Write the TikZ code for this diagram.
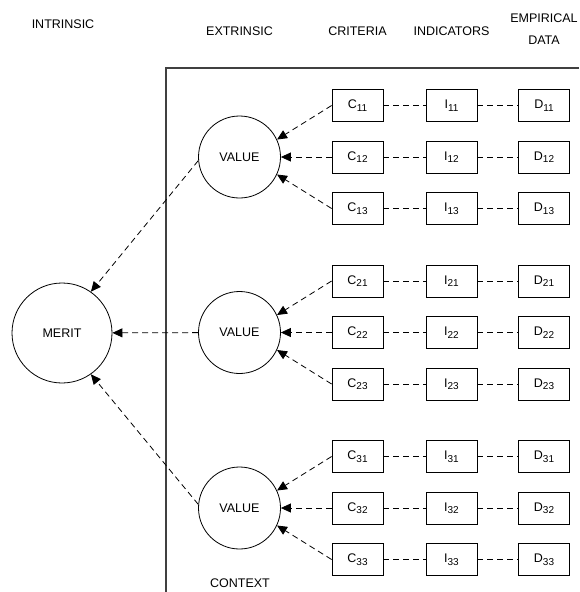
\documentclass[tikz,border=0pt]{standalone}
\usepackage{fontspec}
\setmainfont{Liberation Sans}
\usetikzlibrary{arrows.meta}

\newcommand{\idx}[1]{\raisebox{-2.5pt}{\fontsize{10}{10}\selectfont #1}}

\begin{document}
\begin{tikzpicture}[x=1pt,y=-1pt,line width=0.8pt,
    txt/.style={font=\fontsize{12.5}{22}\selectfont},
    bubble/.style={draw,circle,inner sep=0pt,txt},
    cell/.style={draw,rectangle,minimum width=51pt,minimum height=32pt,inner sep=0pt,font=\fontsize{12.5}{15}\selectfont},
    link/.style={dash pattern=on 6pt off 4pt},
    arr/.style={link,-{Triangle[length=10pt,width=9pt]}}]
    \useasboundingbox (0,0) rectangle (579,592);

    % nadpisy
    \node[txt] (intr) at (63,24) {INTRINSIC};
    \node[txt] (extr) at (239.5,31) {EXTRINSIC};
    \node[txt] (crit) at (357.5,31) {CRITERIA};
    \node[txt] (indic) at (451.5,31) {INDICATORS};
    \node[txt,align=center] (emp) at (544,29) {EMPIRICAL\\DATA};

    % kontext
    \draw[line width=1.3pt,black!75] (579,68) -- (166,68) -- (166,592);
    \node[txt] (context) at (240,583) {CONTEXT};

    \node[bubble,minimum size=100pt] (merit) at (62,333) {MERIT};

    % skupiny
    \foreach \g/\y in {1/157,2/332.5,3/508} {
        \node[bubble,minimum size=82pt] (v\g) at (239.5,\y) {VALUE};
        \foreach \r/\dy/\a in {1/-51.5/25,2/0/0,3/51.5/-25} {
            \node[cell] (c\g\r) at (357.5,\y+\dy) {C\idx{\g\r}};
            \node[cell] (i\g\r) at (451.5,\y+\dy) {I\idx{\g\r}};
            \node[cell] (d\g\r) at (544,\y+\dy) {D\idx{\g\r}};
            \draw[arr] (c\g\r.west) -- (v\g.\a);
            \draw[link] (c\g\r) -- (i\g\r);
            \draw[link] (i\g\r) -- (d\g\r);
        }
    }

    \draw[arr] (v1.185) -- (merit.55);
    \draw[arr] (v2) -- (merit);
    \draw[arr] (v3.175) -- (merit.-55);
\end{tikzpicture}
\end{document}
